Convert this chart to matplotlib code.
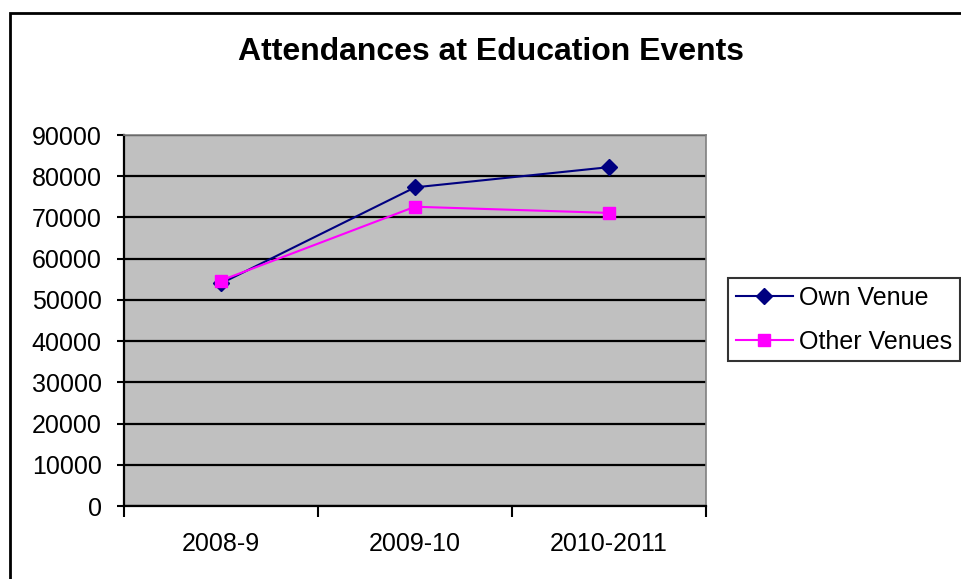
import matplotlib
matplotlib.use("Agg")
import matplotlib.pyplot as plt
from matplotlib.patches import Rectangle

categories = ["2008-9", "2009-10", "2010-2011"]
own_venue = [54000, 77300, 82200]
other_venues = [54700, 72600, 71100]
y_ticks = [0, 10000, 20000, 30000, 40000, 50000, 60000, 70000, 80000, 90000]

plt.rcParams['font.family'] = ['Liberation Sans', 'DejaVu Sans']

W, H = 962, 579
fig = plt.figure(figsize=(W / 100, H / 100), dpi=100)
fig.patch.set_facecolor('white')

# outer chart frame
fig.patches.append(Rectangle((9.5 / W, -0.05), 1.05, 1 - 13 / H + 0.05, transform=fig.transFigure,
                             fill=False, edgecolor='black', linewidth=2, zorder=0))

ax = fig.add_axes([124 / W, 1 - 506 / H, (706 - 124) / W, (506 - 135) / H])
ax.set_facecolor('#C0C0C0')

x = list(range(len(categories)))
ax.plot(x, own_venue, color='#000080', marker='D', markersize=8, linewidth=1.5,
        label='Own Venue', zorder=3)
ax.plot(x, other_venues, color='#FF00FF', marker='s', markersize=9, linewidth=1.5,
        label='Other Venues', zorder=3)

ax.set_xlim(-0.5, len(categories) - 0.5)
ax.set_ylim(0, 90000)
ax.set_yticks(y_ticks)
ax.set_yticklabels([str(v) for v in y_ticks], fontsize=18)
ax.yaxis.grid(True, color='black', linewidth=1.6)
ax.set_axisbelow(True)

ax.set_xticks([i - 0.5 for i in range(len(categories) + 1)])
ax.set_xticklabels([])
ax.set_xticks(x, minor=True)
ax.set_xticklabels(categories, minor=True, fontsize=18)
ax.tick_params(axis='x', which='major', direction='out', length=8, width=1.5, color='black')
ax.tick_params(axis='x', which='minor', length=0, pad=19)
ax.tick_params(axis='y', direction='out', length=5, width=1.5, color='black', pad=11)

for side in ['left', 'bottom']:
    ax.spines[side].set_color('black')
    ax.spines[side].set_linewidth(1.6)
for side in ['top', 'right']:
    ax.spines[side].set_color('#808080')
    ax.spines[side].set_linewidth(1.2)

fig.text(491 / W, 1 - 52.5 / H, "Attendances at Education Events", ha='center', va='center',
         fontsize=23, fontweight='bold')

leg = fig.legend(loc='upper left', bbox_to_anchor=(728 / W, 1 - 278 / H), fontsize=18,
                 frameon=True, fancybox=False, handlelength=2.3, handletextpad=0.25,
                 borderpad=0.3, labelspacing=0.8, borderaxespad=0)
leg.get_frame().set_edgecolor('black')
leg.get_frame().set_linewidth(1.5)

fig.savefig('out.png', dpi=100)
